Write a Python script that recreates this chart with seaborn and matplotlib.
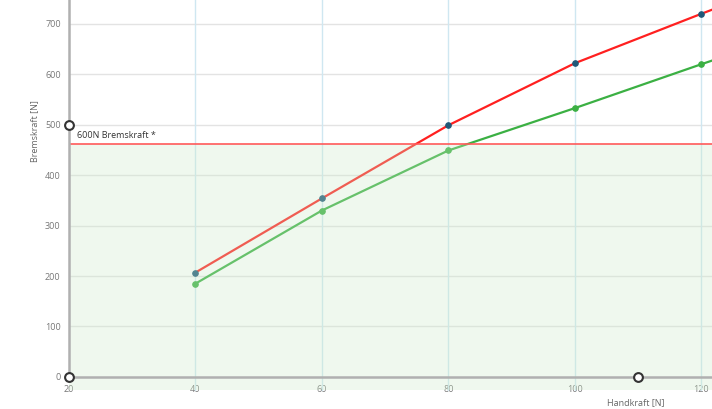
import numpy as np
import matplotlib
matplotlib.use("Agg")
import matplotlib.pyplot as plt
import seaborn as sns

# --- DATA ---
handkraft = [40, 60, 80, 100, 120, 140]
bremskraft_a = [207, 354, 499, 622, 720, 815]   # red series
bremskraft_b = [185, 330, 449, 533, 620, 705]   # green series
x_ticks = [20, 40, 60, 80, 100, 120]
y_ticks = [0, 100, 200, 300, 400, 500, 600, 700]
limit_value = 461
limit_label = "600N Bremskraft *"
handles_x = [20, 20, 110]
handles_y = [500, 0, 0]

sns.set_theme(style="white")
plt.rcParams['font.family'] = ['Open Sans', 'DejaVu Sans']

fig = plt.figure(figsize=(7.12, 4.09), dpi=100)
ax = fig.add_axes([69 / 712, 0, 643 / 712, 1])
ax.set_xlim(20, 121.7)
ax.set_ylim(-63.6, 747.4)

# grid
for yv in y_ticks[1:]:
    ax.axhline(yv, color='#e3e3e3', lw=1, zorder=1)
for xv in x_ticks[1:]:
    ax.plot([xv, xv], [-26, 760], color='#cfe7f1', lw=1, zorder=1)

# series
sns.lineplot(x=handkraft, y=bremskraft_a, ax=ax, color='#ff2020', lw=1.6,
             marker='o', markersize=4, markerfacecolor='#1f5878',
             markeredgecolor='#1f5878', zorder=3)
sns.lineplot(x=handkraft, y=bremskraft_b, ax=ax, color='#3bb043', lw=1.6,
             marker='o', markersize=4, markerfacecolor='#3bb043',
             markeredgecolor='#3bb043', zorder=3)

# shaded zone below limit
ax.fill_between([20, 121.7], -26, limit_value, color='#cdebc9', alpha=0.3,
                lw=0, zorder=4)
ax.axhline(limit_value, color='#ff5a5a', lw=1.2, zorder=5)
ax.text(21.2, limit_value + 8, limit_label, fontsize=6.5, color='#333333',
        va='bottom', ha='left', zorder=6)

# axes lines
ax.spines['top'].set_visible(False)
ax.spines['right'].set_visible(False)
ax.spines['bottom'].set_position(('data', 0))
ax.spines['left'].set_bounds(0, 760)
for s in ['bottom', 'left']:
    ax.spines[s].set_color('#b0b0b0')
    ax.spines[s].set_linewidth(1.8)
    ax.spines[s].set_zorder(6)

ax.set_xticks(x_ticks)
ax.set_yticks(y_ticks)
ax.tick_params(axis='both', length=0, labelsize=6.5, labelcolor='#777777')
ax.tick_params(axis='x', pad=6)
ax.tick_params(axis='y', pad=6)

ax.set_ylabel("Bremskraft [N]", fontsize=6.5, color='#666666')
ax.yaxis.set_label_coords(-0.047, 0.68)
fig.text(636 / 712, 6 / 409, "Handkraft [N]", fontsize=6.5, color='#666666',
         ha='center', va='center')

# drag handles
ax.scatter(handles_x, handles_y, s=40, facecolor='white', edgecolor='#333333',
           linewidth=1.5, zorder=8, clip_on=False)

fig.savefig("out.png", dpi=100)
